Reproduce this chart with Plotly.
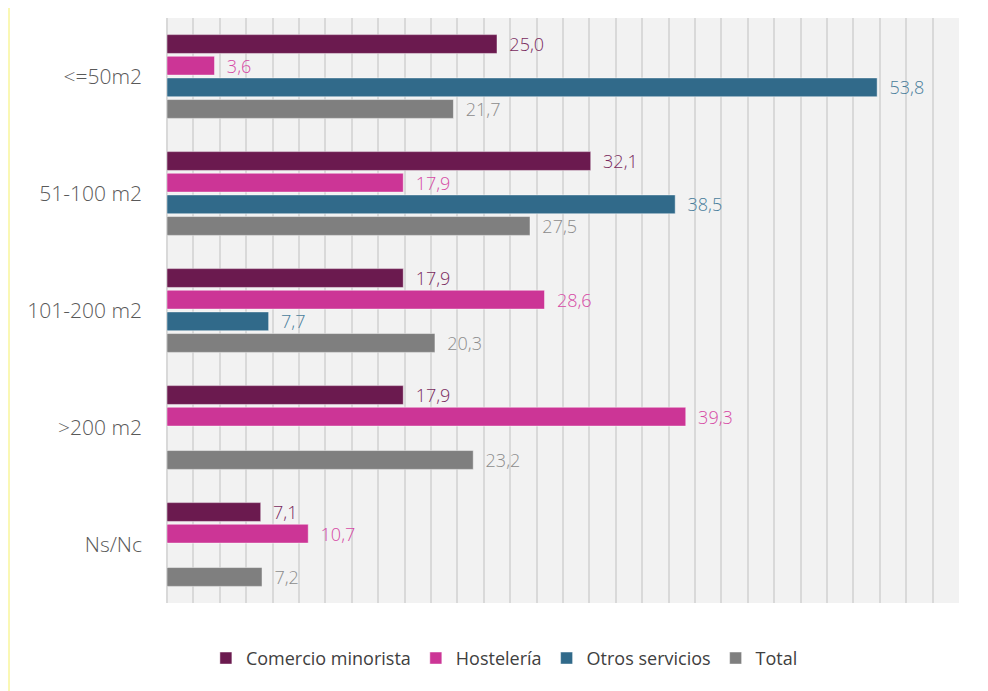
import plotly.graph_objects as go

categories = ["<=50m2", "51-100 m2", "101-200 m2", ">200 m2", "Ns/Nc"]
series_names = ["Comercio minorista", "Hostelería", "Otros servicios", "Total"]
comercio = [25.0, 32.1, 17.9, 17.9, 7.1]
hosteleria = [3.6, 17.9, 28.6, 39.3, 10.7]
otros = [53.8, 38.5, 7.7, None, None]
total = [21.7, 27.5, 20.3, 23.2, 7.2]

values = [comercio, hosteleria, otros, total]
bar_colors = ["#6B1A4F", "#CC3596", "#316A8A", "#7F7F7F"]
label_colors = ["#7A2A5E", "#D64AA5", "#4A7E9C", "#8C8C8C"]

W, H = 988, 691
ml, mr, mt, mb = 167, 29, 18, 88

fig = go.Figure()
for name, vals, bc, lc in zip(series_names, values, bar_colors, label_colors):
    texts = ["" if v is None else "\u00a0\u00a0" + f"{v:.1f}".replace(".", ",") for v in vals]
    fig.add_trace(go.Bar(
        y=categories, x=vals, name=name, orientation="h",
        marker=dict(color=bc, line=dict(color="rgba(255,255,255,0.45)", width=1)),
        text=texts, textposition="outside", cliponaxis=False, constraintext="none",
        textfont=dict(color=lc, size=18, family="Open Sans", weight=300),
        hoverinfo="skip",
    ))

pw = W - ml - mr
ph = H - mt - mb
fig.add_shape(type="line", xref="paper", yref="paper",
              x0=(9 - ml) / pw, x1=(9 - ml) / pw,
              y0=(H - mb - 8) / ph, y1=(H - mb - H) / ph,
              line=dict(color="#F5F06A", width=1))

fig.update_layout(
    width=W, height=H,
    margin=dict(l=ml, r=mr, t=mt, b=mb),
    paper_bgcolor="white", plot_bgcolor="#F2F2F2",
    barmode="group", bargap=0.26, bargroupgap=0.13,
    font=dict(family="Open Sans", color="#595959"),
    showlegend=True,
    legend=dict(orientation="h", x=0.426, xanchor="center", y=-0.063, yanchor="top",
                font=dict(size=18, color="#404040"), traceorder="normal",
                itemwidth=30),
    xaxis=dict(range=[0, 60], dtick=2, showticklabels=False, showgrid=True,
               gridcolor="#D9D9D9", gridwidth=1.5, zeroline=True,
               zerolinecolor="#D9D9D9", zerolinewidth=1.5, fixedrange=True),
    yaxis=dict(autorange="reversed", showgrid=False, ticks="",
               tickfont=dict(size=21, color="#595959", weight=300), ticklabelstandoff=24,
               fixedrange=True),
)

fig.write_html("out.html")
